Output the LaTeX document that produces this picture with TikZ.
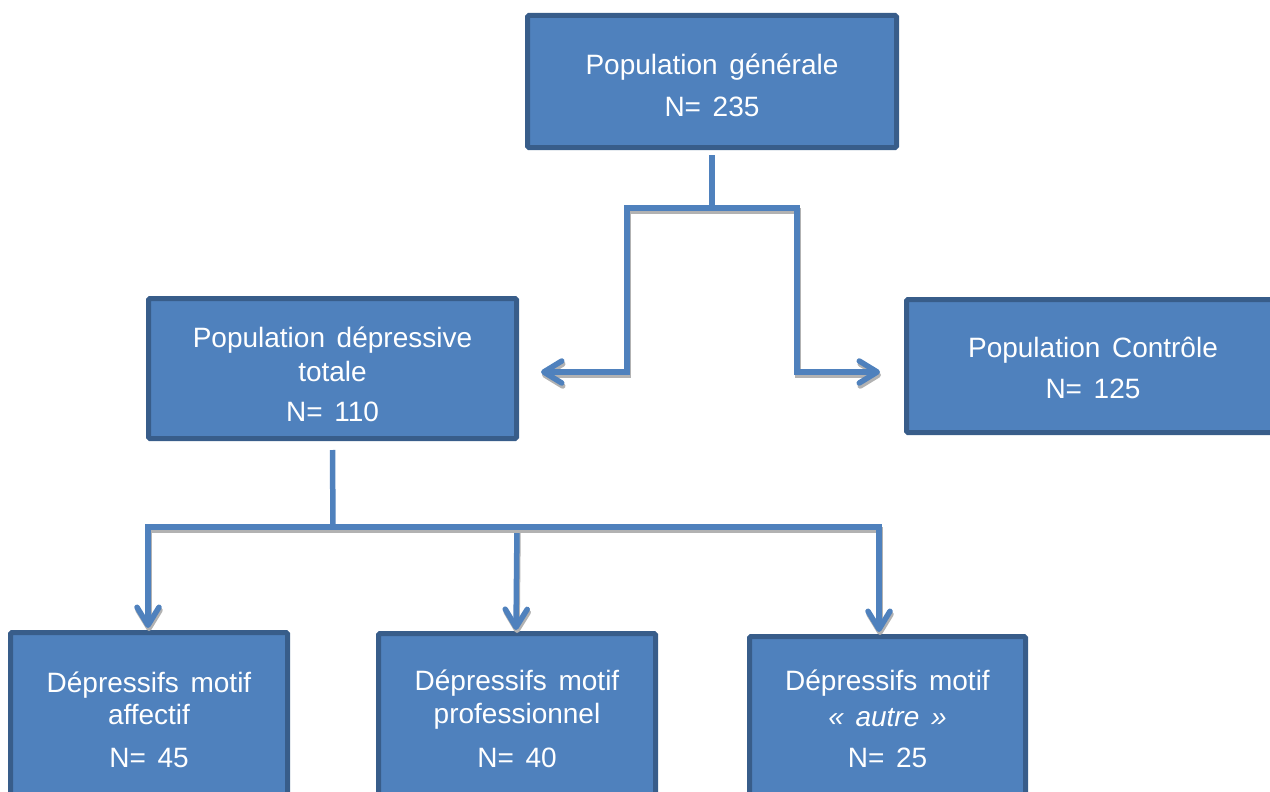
\documentclass[tikz,border=0pt]{standalone}
\usepackage{fontspec}
\setmainfont{Liberation Sans}[WordSpace=1.5]
\usetikzlibrary{arrows.meta}
\definecolor{boxfill}{HTML}{4F81BD}
\definecolor{boxline}{HTML}{385D8A}
\definecolor{connline}{HTML}{4F81BD}
\begin{document}
\begin{tikzpicture}[x=1pt,y=-1pt,
  box/.style={draw=boxline, fill=boxfill, line width=5pt, rectangle,
    rounded corners=1.5pt, inner sep=0pt},
  lbl/.style={text=white, align=center, inner sep=0pt,
    font=\fontsize{28}{34}\selectfont},
  conn/.style={draw=connline, line width=5.5pt},
  shadowed/.style={preaction={draw=black!30, line width=5.5pt,
    transform canvas={xshift=1pt,yshift=-3pt}}},
  arr/.style={conn, shadowed,
    -{Straight Barb[length=18pt,width=22pt,round]}}]
\useasboundingbox (0,0) rectangle (1270,792);
\clip (0,0) rectangle (1270,792);

% boxes
\node[box, minimum width=369pt, minimum height=132pt] (top) at (712,81.5) {};
\node[box, minimum width=368pt, minimum height=140pt] (dep) at (332.5,368.5) {};
\node[box, minimum width=373pt, minimum height=133pt] (ctrl) at (1093,366) {};
\node[box, minimum width=277pt, minimum height=175pt] (b1) at (149,720) {};
\node[box, minimum width=277pt, minimum height=175pt] (b2) at (517,721) {};
\node[box, minimum width=276pt, minimum height=175pt] (b3) at (887.5,724) {};

% box texts
\node[lbl] (top-t) at ([yshift=-3.5pt]top.center)
  {Population générale\\[8pt]N= 235};
\node[lbl] (dep-t) at ([yshift=-5.5pt]dep.center)
  {Population dépressive\\totale\\[6pt]N= 110};
\node[lbl] (ctrl-t) at ([yshift=-1.5pt]ctrl.center)
  {Population Contrôle\\[7pt]N= 125};
\node[lbl] (b1-t) at ([yshift=0.5pt]b1.center)
  {Dépressifs motif\\[-2pt]affectif\\[9pt]N= 45};
\node[lbl] (b2-t) at ([yshift=2.5pt]b2.center)
  {Dépressifs motif\\[-1pt]professionnel\\[10pt]N= 40};
\node[lbl] (b3-t) at ([yshift=5.5pt]b3.center)
  {Dépressifs motif\\[2pt]\textit{« autre »}\\[7pt]N= 25};

% split below the general population
\coordinate (j1) at (712,208);
\coordinate (la) at (627,372);
\coordinate (ra) at (797,372);
\draw[conn] ([yshift=-5pt]top.south) -- (j1);
\draw[arr] (j1) -| (la) -- ([xshift=22pt]dep.east |- la);
\draw[arr] (j1) -| (ra) -- ([xshift=-24pt]ctrl.west |- ra);

% split below the depressive population
\coordinate (j2) at (333,527);
\draw[conn] ([yshift=-9pt]dep.south) -- ([yshift=-2pt]j2);
\draw[arr] (j2) -| ([xshift=-1pt,yshift=2pt]b1.north);
\draw[arr] (j2 -| b2.north) -- ([xshift=-1pt,yshift=1pt]b2.north);
\draw[arr] (j2) -| ([xshift=-8.5pt,yshift=2pt]b3.north);
\end{tikzpicture}
\end{document}
